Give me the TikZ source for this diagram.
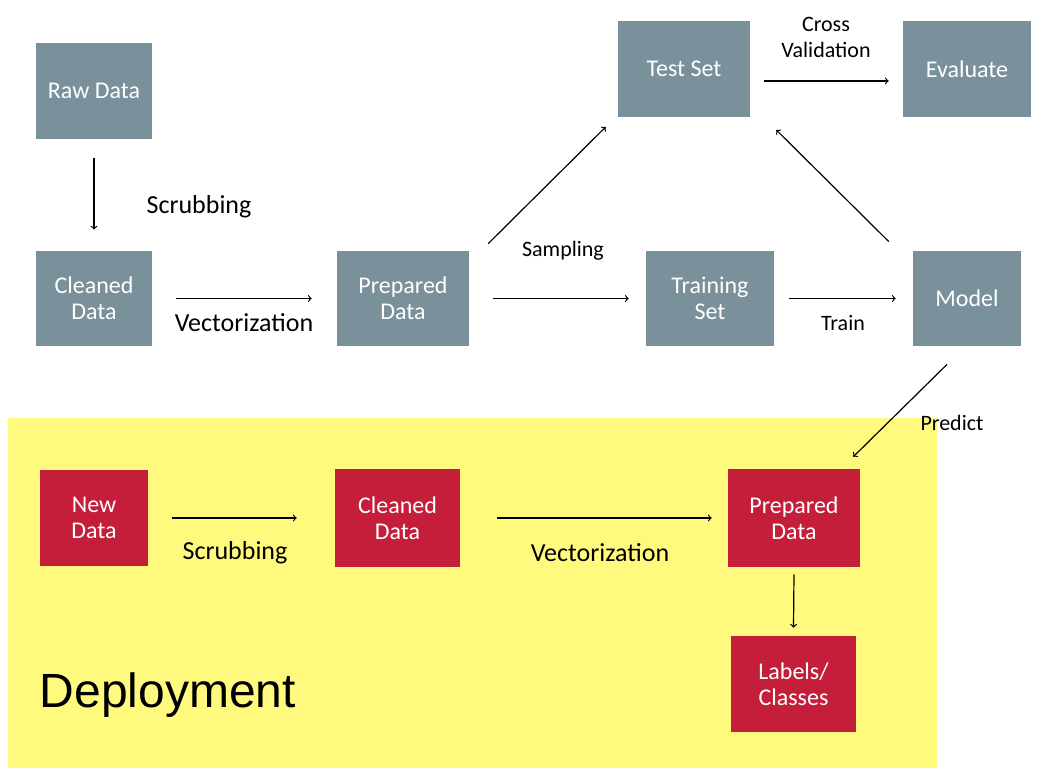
\documentclass[tikz,border=0pt]{standalone}
\usepackage{fontspec}
\setmainfont{Carlito}
\newfontfamily\deployfont{Liberation Sans}
\usepackage{xcolor}
\usepackage{tikz}

\definecolor{boxgray}{RGB}{122,145,155}
\definecolor{boxred}{RGB}{196,30,58}
\definecolor{deployyellow}{RGB}{255,250,125}

\begin{document}
\begin{tikzpicture}[x=0.75pt, y=-0.75pt,
    graybox/.style={fill=boxgray, text=white, align=center, inner sep=0pt,
      minimum height=71.5pt, font=\fontsize{18}{19.5}\selectfont},
    redbox/.style={fill=boxred, text=white, align=center, inner sep=0pt,
      minimum height=73.5pt, font=\fontsize{18}{19.5}\selectfont},
    flow/.style={->, line width=0.9pt},
    biglabel/.style={font=\fontsize{19.5}{21}\selectfont},
    smalllabel/.style={align=center, font=\fontsize{16.5}{19.5}\selectfont}]
      \useasboundingbox (0,0) rectangle (1040,774);

      % Deployment area
      \fill[deployyellow] (8,418) rectangle (937,768);
      \node[anchor=west, font=\deployfont\fontsize{36}{40}\selectfont] (deploy) at (35,695) {Deployment};

      % Training pipeline boxes
      \node[graybox, minimum width=87pt] (raw) at (94,91) {Raw Data};
      \node[graybox, minimum width=87pt] (clean) at (94,298.5) {Cleaned\\Data};
      \node[graybox, minimum width=99pt] (prep) at (403,298.5) {Prepared\\Data};
      \node[graybox, minimum width=99pt] (test) at (684,69) {Test Set};
      \node[graybox, minimum width=96pt] (eval) at (967,69) {Evaluate};
      \node[graybox, minimum width=96pt] (train) at (710,298.5) {Training\\Set};
      \node[graybox, minimum width=81pt] (model) at (967,298.5) {Model};

      % Deployment boxes
      \node[redbox, minimum width=81pt, minimum height=72pt] (newD) at (94,518) {New\\Data};
      \node[redbox, minimum width=93.75pt] (cleanD) at (397.5,518) {Cleaned\\Data};
      \node[redbox, minimum width=99pt] (prepD) at (794,518) {Prepared\\Data};
      \node[redbox, minimum width=93.75pt, minimum height=72pt] (labels) at (793.5,684) {Labels/\\Classes};

      % Draw training arrows
      \draw[flow] ([shift={(0,19)}]raw.south) -- ([shift={(0,-21)}]clean.north);
      \draw[flow] ([shift={(24,0)}]clean.east) -- ([shift={(-25,0)}]prep.west);
      \draw[flow] ([shift={(24,0)}]prep.east) -- ([shift={(-17,0)}]train.west);
      \draw[flow] ([shift={(15,0)}]train.east) -- ([shift={(-17,0)}]model.west);
      \draw[flow] ([shift={(14,12)}]test.east) -- ([shift={(-14,12)}]eval.west);
      \draw[flow] ([shift={(19,-7)}]prep.north east) -- ([shift={(-12,10)}]test.south west);
      \draw[flow] ([shift={(-24,-9)}]model.north west) -- ([shift={(26,13)}]test.south east);

      % Draw deployment arrows
      \draw[flow] ([shift={(-20,18)}]model.south) -- ([shift={(-7,-12)}]prepD.north east);
      \draw[flow] ([shift={(24,0)}]newD.east) -- ([shift={(-38,0)}]cleanD.west);
      \draw[flow] ([shift={(37,0)}]cleanD.east) -- ([shift={(-16,0)}]prepD.west);
      \draw[flow] ([shift={(0,7)}]prepD.south) -- ([shift={(0,-8)}]labels.north);

      % Arrow labels
      \node[biglabel] (lscrub) at (199,207) {Scrubbing};
      \node[biglabel] (lvec) at (244,323) {Vectorization};
      \node[smalllabel] (lsamp) at (563,251) {Sampling};
      \node[smalllabel] (ltrain) at (843,323) {Train};
      \node[smalllabel] (lcross) at (826,37) {Cross\\Validation};
      \node[smalllabel] (lpredict) at (952,423) {Predict};
      \node[biglabel] (lscrubD) at (235,553) {Scrubbing};
      \node[biglabel] (lvecD) at (600,553) {Vectorization};

    \end{tikzpicture}
\end{document}
